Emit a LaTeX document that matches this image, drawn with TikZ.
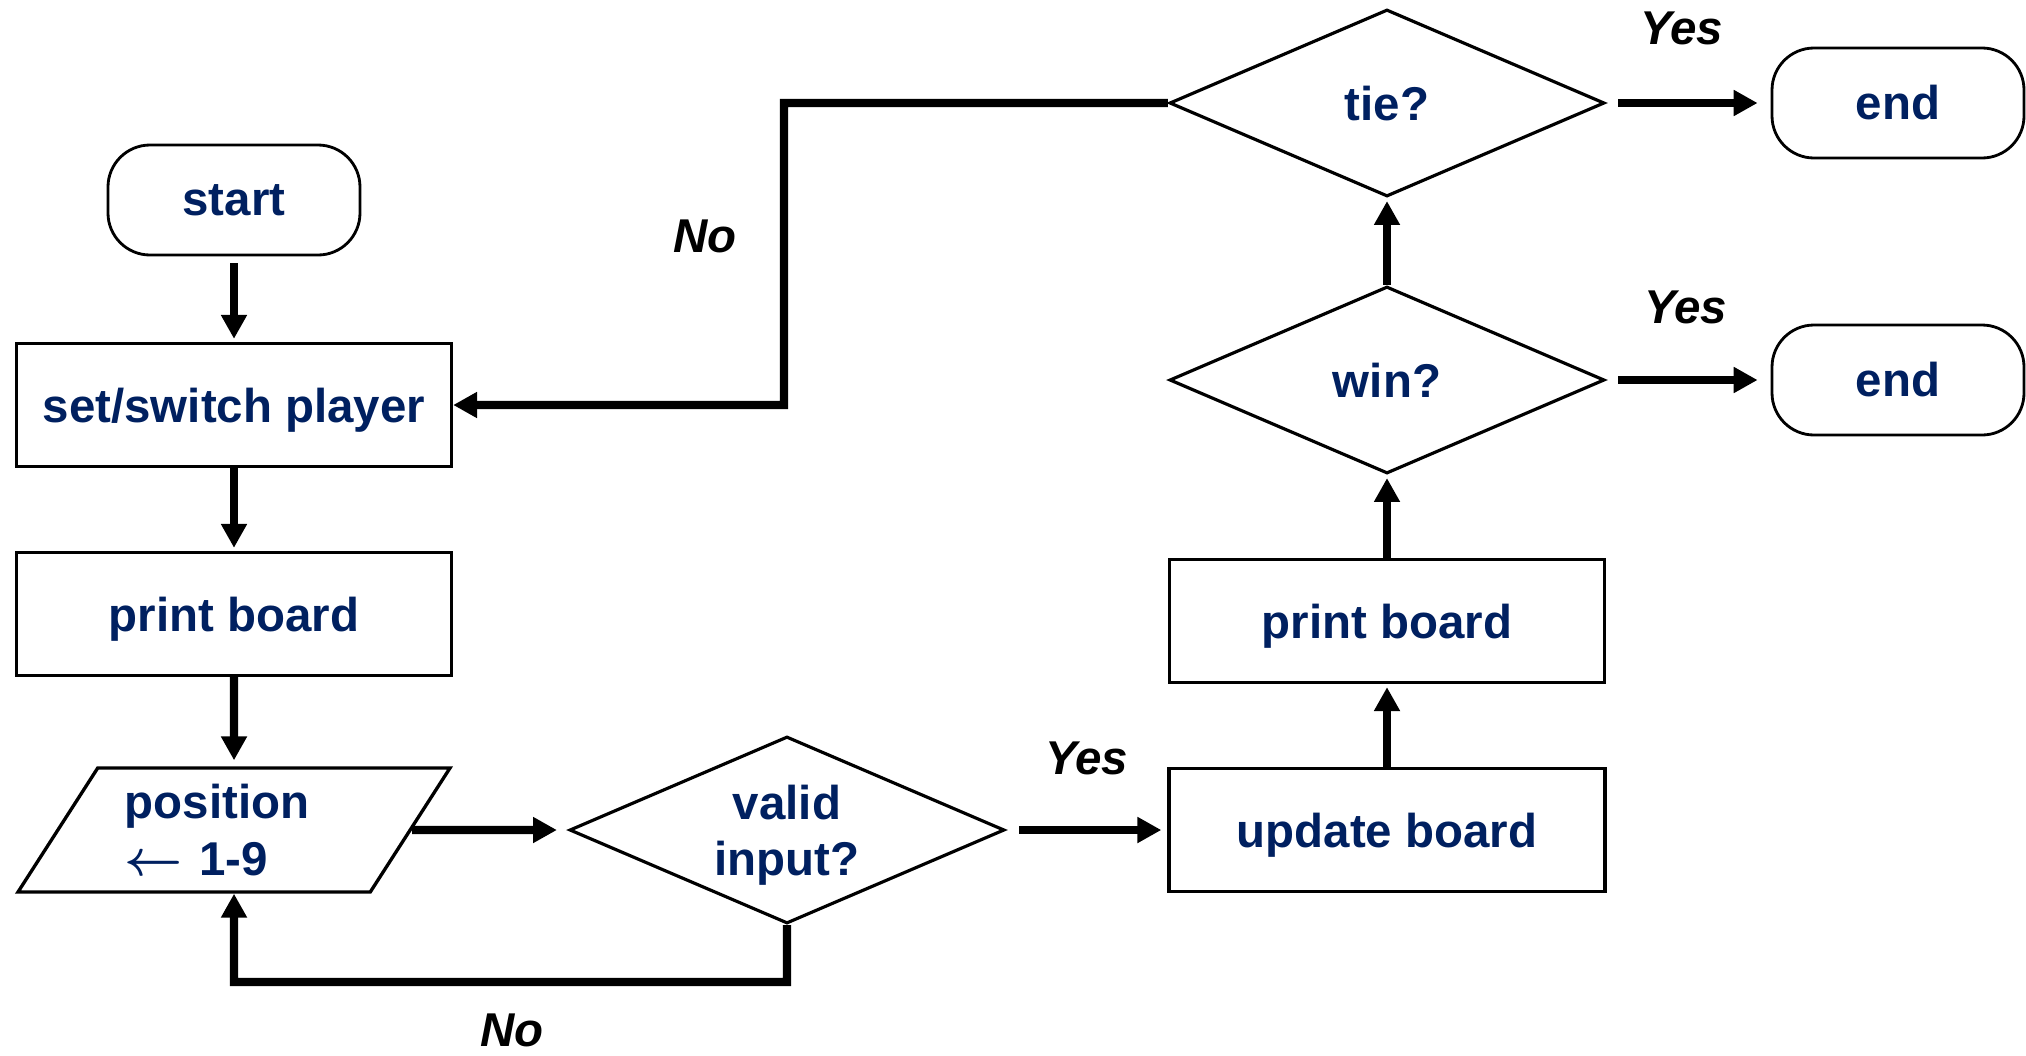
\documentclass[tikz,border=0pt]{standalone}
\usepackage{fontspec}
\setmainfont{Liberation Sans}
\usepackage{tikz}
\usetikzlibrary{positioning,shapes.geometric,arrows.meta}
\definecolor{navy}{HTML}{002060}

\begin{document}
\begin{tikzpicture}[x=1cm,y=1cm,
  node distance=2.1cm,
  font=\fontsize{13.5}{16}\selectfont\bfseries,
  every node/.style={text=navy},
  term/.style={draw,rectangle,rounded corners=0.42cm,
    minimum width=2.52cm,minimum height=1.10cm,inner sep=0pt,line width=0.8pt},
  proc/.style={draw,rectangle,minimum width=4.35cm,minimum height=1.23cm,
    inner sep=0pt,line width=0.95pt,text depth=0pt},
  io/.style={draw,trapezium,trapezium left angle=55,trapezium right angle=125,
    trapezium stretches=true,minimum width=4.35cm,minimum height=1.24cm,
    inner sep=0pt,line width=0.95pt,text width=2.18cm,align=left},
  decision/.style={draw,diamond,aspect=2.33,minimum width=4.35cm,
    minimum height=1.87cm,inner sep=0pt,line width=0.9pt,align=center,
    text depth=0pt},
  arr/.style={line width=2.3pt,-{Triangle[length=6.8pt,width=7pt]},
    shorten >=0.03cm},
  lbl/.style={text=black,font=\fontsize{13.5}{16}\selectfont\bfseries\itshape}
]
\useasboundingbox (0,0) rectangle (20.26,10.55);

% left column
\node[term] (start) at (2.34,8.55) {start};
\node[proc,below of=start,node distance=2.05cm] (switch) {set/switch player};
\node[proc,below of=switch,node distance=2.09cm] (print1) {print board};
\node[io,below of=print1,node distance=2.16cm] (pos) {position\\{\boldmath$\leftarrow$} 1-9};

% bottom row
\node[decision,right of=pos,node distance=5.53cm] (valid) {valid\\input?};
\node[proc,right of=valid,node distance=6.0cm,minimum width=4.36cm] (update) {update board};

% right column
\node[proc,above of=update,node distance=2.09cm] (print2) {print board};
\node[decision,above of=print2,node distance=2.41cm] (win) {win?};
\node[decision,above of=win,node distance=2.77cm] (tie) {tie?};
\node[term,right of=tie,node distance=5.11cm] (end1) {end};
\node[term,right of=win,node distance=5.11cm] (end2) {end};

% bends of the loops
\coordinate (noA) at (7.84,9.52);
\coordinate (noB) at (7.87,0.73);

% labels
\node[lbl] (yesTie) at (16.82,10.27) {Yes};
\node[lbl] (yesWin) at (16.86,7.48) {Yes};
\node[lbl] (yesValid) at (10.87,2.97) {Yes};
\node[lbl] (noTie) at (7.05,8.19) {No};
\node[lbl] (noValid) at (5.12,0.25) {No};

\draw[arr,shorten <=0.07cm] (start) -- (switch);
\draw[arr] (switch) -- (print1);
\draw[arr,shorten >=0.06cm] (print1) -- (pos);
\draw[arr,shorten >=0.11cm] (pos) -- (valid);
\draw[arr,shorten <=0.13cm,shorten >=0.06cm] (valid) -- (update);
\draw[arr] (update) -- (print2);
\draw[arr] (print2) -- (win);
\draw[arr] (win) -- (tie);
\draw[arr,shorten <=0.12cm,shorten >=0.13cm] (tie) -- (end1);
\draw[arr,shorten <=0.12cm,shorten >=0.13cm] (win) -- (end2);
\draw[arr,shorten >=0pt] (tie.west) -- (noA) |- (switch.east);
\draw[arr,shorten >=0pt] (valid.south) -- (noB) -| (pos.south);
\end{tikzpicture}
\end{document}
